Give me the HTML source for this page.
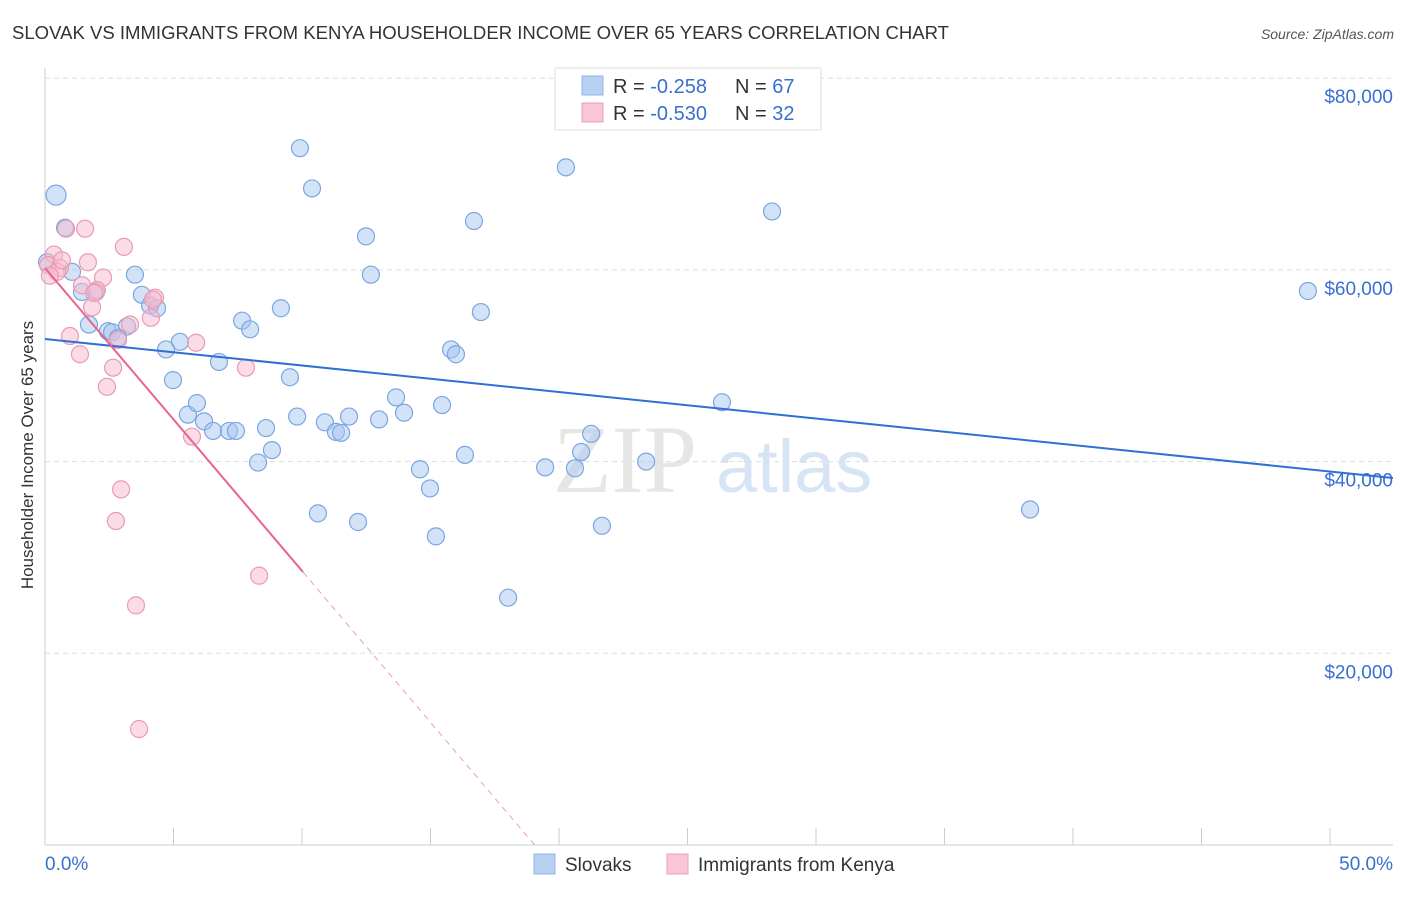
<!DOCTYPE html>
<html><head><meta charset="utf-8"><style>
body{margin:0;background:#fff;font-family:"Liberation Sans",sans-serif;}
</style></head><body>
<svg id="chart" width="1406" height="892" xmlns="http://www.w3.org/2000/svg" font-family="Liberation Sans, sans-serif">
<text x="12" y="39" font-size="18" fill="#333" textLength="937" lengthAdjust="spacingAndGlyphs">SLOVAK VS IMMIGRANTS FROM KENYA HOUSEHOLDER INCOME OVER 65 YEARS CORRELATION CHART</text>
<text x="1394" y="39" font-size="14" fill="#555" font-style="italic" text-anchor="end">Source: ZipAtlas.com</text>
<text x="33" y="455" font-size="17" fill="#333" text-anchor="middle" transform="rotate(-90 33 455)">Householder Income Over 65 years</text>
<text x="553" y="492" font-size="96" fill="#e6e6e6" font-family="Liberation Serif, serif">ZIP</text>
<text x="716" y="492" font-size="74" fill="#d6e4f5">atlas</text>
<g id="grid"></g><g id="axes"></g><g id="pts"></g><g id="lines"></g>
<g>
<rect x="555" y="68" width="266" height="62" fill="#fff" stroke="#ddd"/>
<rect x="582" y="76" width="21" height="19" fill="#b8d1f3" stroke="#8fb3e8"/>
<rect x="582" y="103" width="21" height="19" fill="#f8c6d5" stroke="#ec9fb8"/>
<text x="613" y="93" font-size="20" fill="#333">R = <tspan fill="#3a6fd0">-0.258</tspan><tspan x="735">N = </tspan><tspan fill="#3a6fd0">67</tspan></text>
<text x="613" y="120" font-size="20" fill="#333">R = <tspan fill="#3a6fd0">-0.530</tspan><tspan x="735">N = </tspan><tspan fill="#3a6fd0">32</tspan></text>
</g>
<g>
<rect x="534" y="854" width="21" height="20" fill="#b8d1f3" stroke="#8fb3e8"/>
<text x="565" y="871" font-size="19" fill="#333">Slovaks</text>
<rect x="667" y="854" width="21" height="20" fill="#f8c6d5" stroke="#ec9fb8"/>
<text x="698" y="871" font-size="19" fill="#333">Immigrants from Kenya</text>
</g>
</svg>
<script>
const xTickLabels=["0.0%","50.0%"];
const yTicks=[20000,40000,60000,80000];
const yTickLabels=["$20,000","$40,000","$60,000","$80,000"];
const blueX=[0.43,0.78,9.92,10.39,20.27,28.29,16.69,12.49,12.68,49.14,3.50,1.05,0.08,1.44,1.98,3.77,4.09,4.36,9.18,7.67,7.98,1.71,2.45,3.19,2.61,2.84,5.25,4.71,6.77,15.80,15.99,16.96,4.98,9.53,13.66,13.97,15.45,26.34,5.56,5.91,6.19,9.81,10.89,11.83,13.00,6.54,7.16,7.43,8.60,11.32,11.52,21.25,8.83,8.29,16.34,19.46,20.62,20.86,14.59,23.39,14.98,38.33,10.62,12.18,21.67,15.21,18.02];
const blueY=[67.8,64.4,72.7,68.5,70.7,66.1,65.1,63.5,59.5,57.8,59.5,59.8,60.8,57.7,57.7,57.4,56.3,56.0,56.0,54.7,53.8,54.3,53.6,54.1,53.5,52.9,52.5,51.7,50.4,51.7,51.2,55.6,48.5,48.8,46.7,45.1,45.9,46.2,44.9,46.1,44.2,44.7,44.1,44.7,44.4,43.2,43.2,43.2,43.5,43.1,43.0,42.9,41.2,39.9,40.7,39.4,39.3,41.0,39.2,40.0,37.2,35.0,34.6,33.7,33.3,32.2,25.8].map(v=>v*1000);
const pinkX=[0.35,0.82,1.56,3.07,0.12,0.58,0.47,1.67,2.26,1.44,2.02,4.28,1.83,4.12,3.31,0.97,5.88,1.36,2.65,7.82,2.41,5.72,2.96,2.76,8.33,3.54,3.66,0.19,0.66,1.91,2.84,4.20];
const pinkY=[61.6,64.3,64.3,62.4,60.5,60.2,59.8,60.8,59.2,58.4,57.9,57.1,56.1,55.0,54.3,53.1,52.4,51.2,49.8,49.8,47.8,42.6,37.1,33.8,28.1,25.0,12.1,59.4,61.0,57.6,52.7,56.9].map(v=>v*1000);
const blueLine=[52790,-276.5];
const pinkLine=[60200,-3160];
const NS="http://www.w3.org/2000/svg";
const X=v=>45+v/50*1285, Y=v=>845-v/20000*191.7;
function mk(t,a,p){const e=document.createElementNS(NS,t);for(const k in a)e.setAttribute(k,a[k]);document.getElementById(p).appendChild(e);return e;}
yTicks.forEach((t,i)=>{
 const g=mk('line',{x1:45,x2:1393,y1:Y(t),y2:Y(t),stroke:'#ddd','stroke-dasharray':'5,4'},'grid');
 
 
 const l=mk('text',{x:1393,y:Y(t)+25,'font-size':19,fill:'#3a6fd0','text-anchor':'end'},'axes');
 l.textContent=yTickLabels[i];
 
 
});
const ax=mk('line',{x1:45,x2:1393,y1:845,y2:845,stroke:'#ccc'},'axes');


const ay=mk('line',{x1:45,x2:45,y1:68,y2:845,stroke:'#ccc'},'axes');


for(let i=0;i<=10;i++){const t=mk('line',{x1:X(i*5),x2:X(i*5),y1:828,y2:845,stroke:'#ccc'},'axes');
 
 }
[[0,'start',45],[50,'end',1393]].forEach((d,i)=>{const l=mk('text',{x:d[2],y:870,'font-size':19,fill:'#3a6fd0','text-anchor':d[1]},'axes');l.textContent=xTickLabels[i];
 
 });
blueX.forEach((x,i)=>{const c=mk('circle',{cx:X(x),cy:Y(blueY[i]),r:i==0?10:8.5,fill:'rgba(165,198,240,0.5)',stroke:'#7ba6e2','stroke-width':1.2},'pts');
 
 });
pinkX.forEach((x,i)=>{const c=mk('circle',{cx:X(x),cy:Y(pinkY[i]),r:8.5,fill:'rgba(247,185,205,0.5)',stroke:'#e99ab5','stroke-width':1.2},'pts');
 
 });
const bl=mk('line',{x1:X(0),y1:Y(blueLine[0]),x2:X(52.45),y2:Y(blueLine[0]+blueLine[1]*52.45),stroke:'#2f6fd6','stroke-width':2},'lines');


const xe=-pinkLine[0]/pinkLine[1];
const pl=mk('line',{x1:X(0),y1:Y(pinkLine[0]),x2:X(10.04),y2:Y(pinkLine[0]+pinkLine[1]*10.04),stroke:'#e8648f','stroke-width':2},'lines');


const pd=mk('line',{x1:X(10.04),y1:Y(pinkLine[0]+pinkLine[1]*10.04),x2:X(xe),y2:Y(0),stroke:'#eaa0b8','stroke-width':1,'stroke-dasharray':'6,5'},'lines');


</script>
</body></html>
